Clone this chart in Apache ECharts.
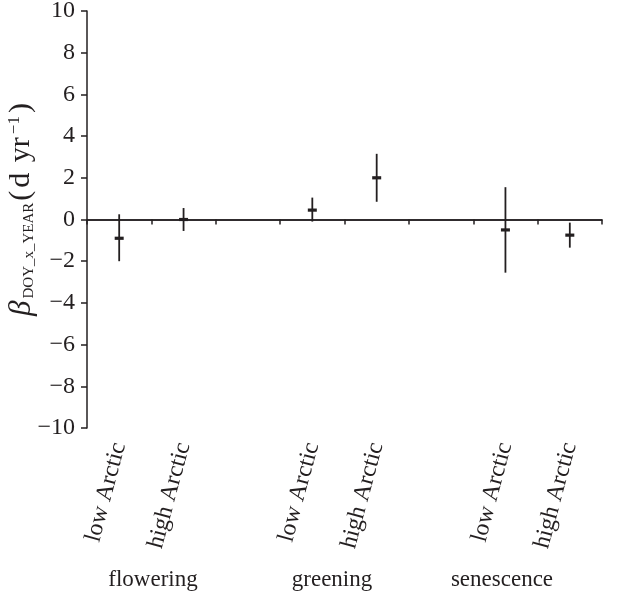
<!DOCTYPE html>
<html>
<head>
<meta charset="utf-8">
<script src="https://cdn.jsdelivr.net/npm/echarts@6/dist/echarts.min.js"></script>
<style>html,body{margin:0;padding:0;background:#fff}#c{width:641px;height:593px}</style>
</head>
<body>
<div id="c"></div>
<script>
var categories = ['low Arctic','high Arctic','','low Arctic','high Arctic','','low Arctic','high Arctic'];
var groups = ['flowering','greening','senescence'];
var means = [-0.9, 0.0, null, 0.45, 2.0, null, -0.5, -0.75];
var upper = [0.25, 0.55, null, 1.05, 3.15, null, 1.55, -0.15];
var lower = [-2.0, -0.55, null, -0.1, 0.85, null, -2.55, -1.35];
var yTicks = [-10,-8,-6,-4,-2,0,2,4,6,8,10];

var data = [];
for (var i = 0; i < categories.length; i++) {
  if (means[i] !== null) data.push([i, means[i], lower[i], upper[i]]);
}
var ink = '#231f20';
var serif = 'Liberation Serif';
var chart = echarts.init(document.getElementById('c'));
chart.setOption({
  animation: false,
  grid: {left: 87, right: 39, top: 11, bottom: 165, outerBoundsMode: 'none', containLabel: false},
  xAxis: {
    type: 'category', data: categories, boundaryGap: true,
    axisLine: {lineStyle: {color: ink, width: 1.5}},
    axisTick: {show: true, inside: false, length: 5, lineStyle: {color: ink, width: 1.5}},
    axisLabel: {rotate: 75, margin: 15, fontFamily: serif, fontSize: 24, color: ink, interval: 0}
  },
  yAxis: {
    type: 'value', min: yTicks[0], max: yTicks[yTicks.length-1], interval: 2,
    splitLine: {show: false},
    axisLine: {show: true, lineStyle: {color: ink, width: 1.5}},
    axisTick: {show: true, length: 6, lineStyle: {color: ink, width: 1.5}},
    axisLabel: {margin: 12, fontFamily: serif, fontSize: 24, color: ink,
      formatter: function (v) { return v < 0 ? '\u2212' + Math.abs(v) : String(v); }},
    name: '{b|β}{s|DOY_x_YEAR}{n|(}{n|d}{n| yr}{p|−1}{c|)}',
    nameLocation: 'middle', nameGap: 50, nameRotate: 90, nameMoveOverlap: false,
    nameTextStyle: {
      fontFamily: serif, color: ink, padding: [0, 0, 0, 20],
      rich: {
        b: {fontFamily: serif, fontStyle: 'italic', fontSize: 31, color: ink, padding: [0, 2, 0, 0]},
        s: {fontFamily: serif, fontSize: 15, color: ink, verticalAlign: 'bottom', padding: [16, 2, 0, 0]},
        n: {fontFamily: serif, fontSize: 30, color: ink, padding: [0, 3, 0, 0]},
        c: {fontFamily: serif, fontSize: 30, color: ink, padding: [0, 0, 0, 3]},
        p: {fontFamily: serif, fontSize: 17, color: ink, verticalAlign: 'top', padding: [0, 0, 12, 0]}
      }
    }
  },
  series: [{
    type: 'custom',
    data: data,
    encode: {x: 0, y: [1, 2, 3]},
    renderItem: function (params, api) {
      var x = api.value(0);
      var m = api.coord([x, api.value(1)]);
      var lo = api.coord([x, api.value(2)]);
      var hi = api.coord([x, api.value(3)]);
      return {
        type: 'group',
        children: [
          {type: 'line', shape: {x1: lo[0], y1: lo[1], x2: hi[0], y2: hi[1]},
           style: {stroke: ink, lineWidth: 1.8}},
          {type: 'rect', shape: {x: m[0] - 4.5, y: m[1] - 1.6, width: 9, height: 3.2},
           style: {fill: ink}}
        ]
      };
    },
    markLine: {
      silent: true, symbol: 'none', label: {show: false},
      lineStyle: {color: ink, width: 1.5, type: 'solid'},
      data: [{yAxis: 0}]
    }
  }],
  graphic: [
    {type: 'text', x: 153, y: 580, style: {text: groups[0], fontFamily: serif, fontSize: 23, fill: ink, align: 'center', verticalAlign: 'middle'}},
    {type: 'text', x: 332, y: 580, style: {text: groups[1], fontFamily: serif, fontSize: 23, fill: ink, align: 'center', verticalAlign: 'middle'}},
    {type: 'text', x: 502, y: 580, style: {text: groups[2], fontFamily: serif, fontSize: 23, fill: ink, align: 'center', verticalAlign: 'middle'}}
  ]
});
</script>
</body>
</html>
